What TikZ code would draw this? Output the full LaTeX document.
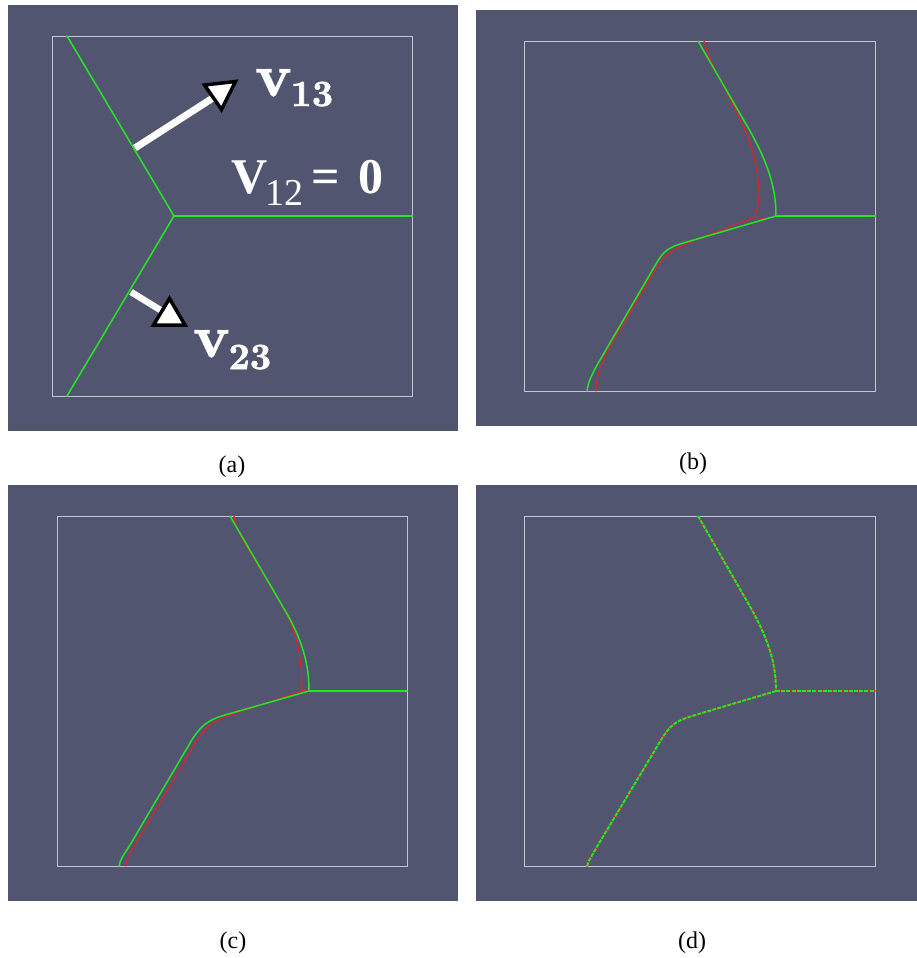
\documentclass[tikz,border=0pt]{standalone}
\usepackage{fontspec}
\newfontfamily\capfont{Liberation Serif}
\newfontfamily\vecfont[FakeBold=1.6]{lmroman10-bold.otf}
\usetikzlibrary{arrows.meta, calc}
\definecolor{Slate} {HTML}{525570}
\definecolor{Frame} {HTML}{C4C4CE}
\definecolor{Lime}  {HTML}{22E622}
\definecolor{Crim}  {HTML}{E4202A}
\tikzset{
  panel/.style={
    fill=Slate, draw=none,
  },
  frm/.style={
    draw=Frame, line width=0.9pt,
  },
  front/.style={
    draw=Lime, line width=1.5pt, line cap=round,
  },
  rfront/.style={
    draw=Crim, line width=1.6pt, line cap=round,
  },
  mixfront/.style={
    draw=Lime, line width=2pt, dash pattern=on 4pt off 1.2pt,
  },
  shaft/.style={
    draw=white, line width=7pt,
  },
  glyph/.style={
    draw=black, fill=white, line width=3.5pt, line join=miter,
  },
  vlbl/.style={
    text=white, inner sep=0pt, anchor=base west,
    font=\vecfont\fontsize{60}{60}\selectfont,
  },
  subcap/.style={
    font=\capfont\fontsize{24}{26}\selectfont, inner sep=0pt,
  },
}
\begin{document}
\begin{tikzpicture}[x=1pt,y=-1pt]
  \useasboundingbox (0,0) rectangle (917,958);

  % (a) initial triple junction
  \fill[panel] (8,5) rectangle (458,431);
  \draw[frm] (52,36) rectangle (412,396);
  \coordinate (ja) at (174,216);
  \draw[front] (67,36) -- (ja) -- (67,396);
  \draw[front] (ja) -- (412,216);
  \coordinate (s13) at (135,148);
  \coordinate (e13) at (216,96);
  \draw[shaft] (s13) -- (e13);
  \draw[glyph] (204.5,85) -- (235.5,81.5) -- (221.5,109.5) -- cycle;
  \coordinate (s23) at (131,292);
  \coordinate (e23) at (162,311);
  \draw[shaft, line width=6.5pt] (s23) -- (e23);
  \draw[glyph] (169.5,298.5) -- (185,325) -- (153.5,325) -- cycle;
  \node[vlbl] (v13) at (255,96)
    {v\kern-1pt\raisebox{-10pt}{\fontsize{37}{37}\selectfont 13}};
  \node[vlbl] (v23) at (193,357)
    {v\kern-1pt\raisebox{-12pt}{\fontsize{37}{37}\selectfont 23}};
  \node[vlbl, font=\capfont\fontsize{50}{50}\selectfont] (v12) at (231,193)
    {\textbf{V}\kern-2pt\raisebox{-12pt}{\fontsize{38}{38}\selectfont 12}\hspace{8pt}\textbf{=}\hspace{19pt}\textbf{0}};
  \node[subcap] (capa) at (232,467) {(a)};

  % (b)
  \fill[panel] (476,10) rectangle (917,426);
  \draw[frm] (524,41) rectangle (875,391);
  \coordinate (jb) at (776,216);
  \begin{scope}[rfront/.append style={line width=1.1pt}]
  \draw[rfront] plot[smooth, tension=0.6] coordinates
    {(704,41) (712,63) (737,113) (750,143) (757,172) (759,198) (755,216)};
  \draw[rfront] (755,217) .. controls (762,219) and (768,219) .. (jb) -- (875,216);
  \draw[rfront] (755,217) -- (700,238) .. controls (672,249) and (664,255) .. (655,270)
    -- (612,343) .. controls (600,364) and (596,378) .. (596,391);
  \end{scope}
  \draw[front] (698,41) -- (750,131) .. controls (772,170) and (776,195) .. (jb);
  \draw[front] (jb) -- (875,216);
  \draw[front] (jb) -- (680,244) .. controls (665,249) and (662,254) .. (656,264)
    -- (600,360) .. controls (592,374) and (588,382) .. (587,391);
  \node[subcap] (capb) at (693,464) {(b)};

  % (c)
  \fill[panel] (8,485) rectangle (458,901);
  \draw[frm] (57,516) rectangle (407,866);
  \coordinate (jc) at (309,691);
  \begin{scope}[rfront/.append style={line width=1.1pt}]
  \draw[rfront] (234,516) .. controls (235,525) and (238,530) .. (243,540)
    -- (282,606) .. controls (297,632) and (302,655) .. (302,691) -- (jc);
  \draw[rfront] (304,690) -- (225,717) .. controls (212,722) and (205,728) .. (197,740)
    -- (133,848) .. controls (128,856) and (126,861) .. (126,866);
  \end{scope}
  \draw[front] (230,516) -- (283,607) .. controls (303,640) and (309,665) .. (jc);
  \draw[front] (jc) -- (407,691);
  \draw[front] (jc) -- (225,715) .. controls (208,720) and (202,725) .. (193,738)
    -- (130,845) .. controls (123,856) and (120,860) .. (119,866);
  \node[subcap] (capc) at (233,943) {(c)};

  % (d)
  \fill[panel] (476,485) rectangle (917,901);
  \draw[frm] (524,516) rectangle (875,866);
  \coordinate (jd) at (776,691);
  \foreach \sty in {rfront, mixfront}{
    \draw[\sty] (698,516) -- (748,603) .. controls (768,638) and (776,662) .. (jd);
    \draw[\sty] (jd) -- (875,691);
    \draw[\sty] (jd) -- (692,716) .. controls (676,721) and (670,725) .. (661,740)
      -- (598,845) .. controls (591,857) and (588,862) .. (587,866);
  }
  \node[subcap] (capd) at (692,943) {(d)};
\end{tikzpicture}
\end{document}
